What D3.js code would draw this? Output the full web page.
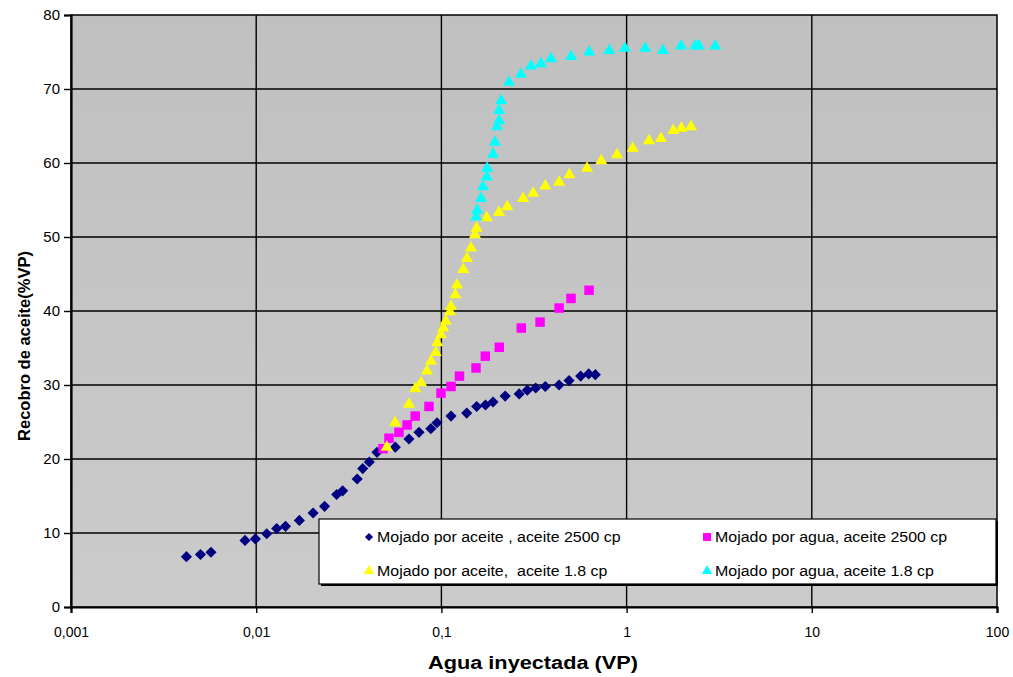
<!DOCTYPE html>
<html>
<head>
<meta charset="utf-8">
<script src="https://cdn.jsdelivr.net/npm/d3@7"></script>
<style>
  html, body { margin: 0; padding: 0; background: #ffffff; }
  svg { display: block; font-family: "Liberation Sans", Arial, sans-serif; }
</style>
</head>
<body>
<svg id="chart" width="1013" height="677"></svg>
<script>
// ---- Data ----
const xTicks = [0.001, 0.01, 0.1, 1, 10, 100];
const xTickLabels = ["0,001", "0,01", "0,1", "1", "10", "100"];
const yTicks = [0, 10, 20, 30, 40, 50, 60, 70, 80];

const seriesNames = [
  "Mojado por aceite , aceite 2500 cp",
  "Mojado por agua, aceite 2500 cp",
  "Mojado por aceite,  aceite 1.8 cp",
  "Mojado por agua, aceite 1.8 cp"
];

const oil2500X = [0.0042,0.0050,0.0057,0.0087,0.0099,0.0114,0.0129,0.0144,0.0171,0.0203,0.0234,0.0272,0.0293,0.0351,0.0376,0.0408,0.0449,0.0564,0.0668,0.0757,0.0877,0.0947,0.1127,0.137,0.155,0.173,0.190,0.221,0.263,0.291,0.323,0.364,0.432,0.489,0.565,0.624,0.678];
const oil2500Y = [6.8,7.1,7.4,9.0,9.2,9.9,10.6,10.9,11.7,12.7,13.6,15.2,15.7,17.3,18.7,19.6,20.9,21.6,22.7,23.6,24.1,24.9,25.8,26.2,27.1,27.3,27.7,28.5,28.8,29.3,29.6,29.8,30.0,30.6,31.2,31.5,31.4];

const water2500X = [0.0484,0.0521,0.059,0.0653,0.0722,0.0857,0.0995,0.1127,0.1252,0.1538,0.1726,0.2054,0.270,0.341,0.432,0.501,0.627];
const water2500Y = [21.4,22.8,23.6,24.6,25.8,27.1,28.9,29.8,31.2,32.3,33.9,35.1,37.7,38.5,40.4,41.7,42.8];

const oil18X = [0.0507,0.0562,0.0668,0.0723,0.0776,0.0836,0.0879,0.0932,0.0950,0.0995,0.1023,0.1055,0.1113,0.1127,0.1189,0.1214,0.1313,0.1375,0.1445,0.1518,0.155,0.1757,0.2046,0.2269,0.2764,0.3131,0.364,0.432,0.491,0.611,0.730,0.888,1.079,1.321,1.533,1.787,1.975,2.227];
const oil18Y = [21.6,24.9,27.4,29.5,30.3,31.9,33.2,34.4,35.7,36.8,37.7,38.6,39.9,40.6,42.2,43.5,45.6,47.1,48.5,50.3,51.2,52.6,53.3,54.1,55.2,55.9,56.9,57.4,58.4,59.3,60.3,61.1,62.0,63.0,63.3,64.4,64.7,64.9];

const water18X = [0.154,0.156,0.1636,0.1677,0.1758,0.1767,0.190,0.1948,0.1996,0.2051,0.2051,0.2103,0.2317,0.269,0.3047,0.345,0.3906,0.501,0.629,0.806,0.980,1.262,1.572,1.966,2.350,2.460,3.013];
const water18Y = [52.7,53.6,55.2,56.8,58.1,59.3,61.2,62.8,64.9,65.7,67.1,68.4,70.9,72.0,73.1,73.4,74.1,74.4,75.0,75.2,75.5,75.5,75.2,75.8,75.8,75.8,75.8];

// ---- Layout ----
const svg = d3.select("#chart");
const m = { left: 71, right: 997, top: 15, bottom: 607 };

const x = d3.scaleLog().domain([0.001, 100]).range([m.left, m.right]);
const y = d3.scaleLinear().domain([0, 80]).range([m.bottom, m.top]);

const defs = svg.append("defs");
const grad = defs.append("linearGradient").attr("id", "bg").attr("x1", 0).attr("y1", 0).attr("x2", 0).attr("y2", 1);
grad.append("stop").attr("offset", "0%").attr("stop-color", "#c0c0c0");
grad.append("stop").attr("offset", "100%").attr("stop-color", "#cbcbcb");

svg.append("rect").attr("x", m.left).attr("y", m.top)
  .attr("width", m.right - m.left).attr("height", m.bottom - m.top)
  .attr("fill", "url(#bg)");

// gridlines
svg.append("g").selectAll("line").data(yTicks.filter(d => d > 0 && d < 80)).join("line")
  .attr("x1", m.left).attr("x2", m.right)
  .attr("y1", d => y(d)).attr("y2", d => y(d))
  .attr("stroke", "#000").attr("stroke-width", 1.4);
svg.append("g").selectAll("line").data(xTicks.filter(d => d > 0.001 && d < 100)).join("line")
  .attr("y1", m.top).attr("y2", m.bottom)
  .attr("x1", d => x(d)).attr("x2", d => x(d))
  .attr("stroke", "#000").attr("stroke-width", 1.4);

// frame
svg.append("rect").attr("x", m.left).attr("y", m.top)
  .attr("width", m.right - m.left).attr("height", m.bottom - m.top)
  .attr("fill", "none").attr("stroke", "#000").attr("stroke-width", 1.5);

// axes
const yAxis = d3.axisLeft(y).tickValues(yTicks).tickSize(7).tickPadding(4).tickFormat(d3.format("d"));
const gy = svg.append("g").attr("transform", `translate(${m.left},0)`).call(yAxis);
gy.select(".domain").attr("stroke", "#000").attr("stroke-width", 2.2);
gy.selectAll(".tick line").attr("stroke", "#000").attr("stroke-width", 1.4);
gy.selectAll(".tick text").attr("font-size", 15).attr("fill", "#000")
  .attr("font-family", "Liberation Sans, Arial, sans-serif");

const xAxis = d3.axisBottom(x).tickValues(xTicks).tickSize(6).tickPadding(14)
  .tickFormat((d, i) => xTickLabels[i]);
const gx = svg.append("g").attr("transform", `translate(0,${m.bottom})`).call(xAxis);
gx.select(".domain").attr("stroke", "#000").attr("stroke-width", 2.2);
gx.selectAll(".tick line").attr("stroke", "#000").attr("stroke-width", 1.4);
gx.selectAll(".tick text").attr("font-size", 14).attr("fill", "#000")
  .attr("font-family", "Liberation Sans, Arial, sans-serif");

// axis titles
svg.append("text").attr("x", 533).attr("y", 669).attr("text-anchor", "middle")
  .attr("font-size", 18).attr("font-weight", "bold")
  .attr("textLength", 210).attr("lengthAdjust", "spacingAndGlyphs")
  .text("Agua inyectada (VP)");
svg.append("text").attr("transform", "translate(30,346) rotate(-90)").attr("text-anchor", "middle")
  .attr("font-size", 16.5).attr("font-weight", "bold")
  .text("Recobro de aceite(%VP)");

// ---- Markers ----
const diamond = d3.symbol().type(d3.symbolSquare).size(62);
const square = d3.symbol().type(d3.symbolSquare).size(90);
const triangle = d3.symbol().type(d3.symbolTriangle).size(64);

const series = [
  { xs: oil2500X, ys: oil2500Y, path: diamond(), rot: 45, color: "#000080" },
  { xs: water2500X, ys: water2500Y, path: square(), rot: 0, color: "#ff00ff" },
  { xs: oil18X, ys: oil18Y, path: triangle(), rot: 0, color: "#ffff00" },
  { xs: water18X, ys: water18Y, path: triangle(), rot: 0, color: "#00ffff" }
];

series.forEach(s => {
  svg.append("g").selectAll("path").data(s.xs.map((v, i) => [v, s.ys[i]])).join("path")
    .attr("d", s.path)
    .attr("transform", d => `translate(${x(d[0])},${y(d[1])}) rotate(${s.rot})`)
    .attr("fill", s.color);
});

// ---- Legend ----
const lg = svg.append("g");
lg.append("rect").attr("x", 321).attr("y", 521).attr("width", 677).attr("height", 65).attr("fill", "#000");
lg.append("rect").attr("x", 319).attr("y", 519).attr("width", 677).attr("height", 65)
  .attr("fill", "#fff").attr("stroke", "#000").attr("stroke-width", 1.2);

const legendItems = [
  { name: seriesNames[0], mx: 369, my: 537, path: d3.symbol().type(d3.symbolSquare).size(34)(), rot: 45, color: "#000080" },
  { name: seriesNames[1], mx: 707, my: 537, path: d3.symbol().type(d3.symbolSquare).size(64)(), rot: 0, color: "#ff00ff" },
  { name: seriesNames[2], mx: 369, my: 571, path: d3.symbol().type(d3.symbolTriangle).size(46)(), rot: 0, color: "#ffff00" },
  { name: seriesNames[3], mx: 707, my: 571, path: d3.symbol().type(d3.symbolTriangle).size(46)(), rot: 0, color: "#00ffff" }
];
legendItems.forEach(it => {
  lg.append("path").attr("d", it.path)
    .attr("transform", `translate(${it.mx},${it.my}) rotate(${it.rot})`).attr("fill", it.color);
  lg.append("text").attr("transform", `translate(${it.mx + 8},${it.my + 5}) scale(1.1,1)`)
    .attr("font-size", 14.5).attr("fill", "#000").style("white-space", "pre")
    .attr("xml:space", "preserve")
    .text(it.name);
});
</script>
</body>
</html>
